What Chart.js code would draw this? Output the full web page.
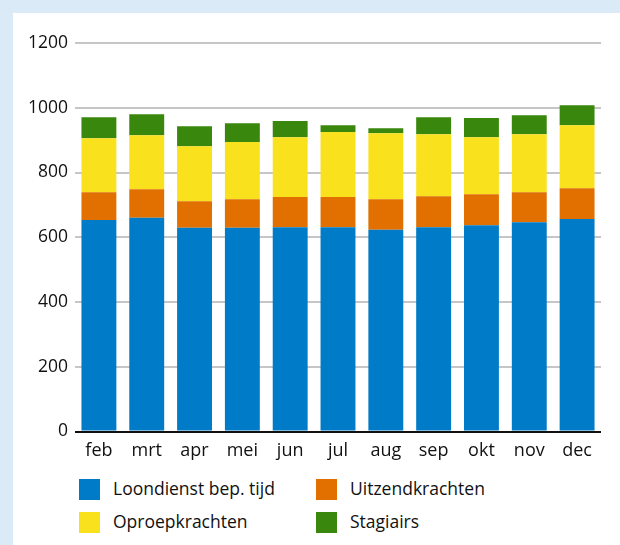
<!DOCTYPE html>
<html>
<head>
<meta charset="utf-8">
<script src="https://cdn.jsdelivr.net/npm/chart.js@4"></script>
<style>
  body { margin: 0; background: #daeaf6; width: 620px; height: 545px; overflow: hidden; font-family: "Open Sans", sans-serif; }
  #panel { position: absolute; left: 13px; top: 13px; width: 607px; height: 532px; background: #fff; }
  #wrap { position: absolute; left: 0; top: 0; width: 607px; height: 460px; }
  #legend { position: absolute; left: 66px; top: 466px; }
  .item { position: absolute; display: flex; align-items: center; white-space: nowrap; font-size: 17.5px; line-height: 21px; color: #111; }
  .item span.txt { position: relative; top: -1px; }
  .box { width: 21px; height: 21px; margin-right: 13px; }
</style>
</head>
<body>
<div id="panel">
  <div id="wrap"><canvas id="chartCanvas"></canvas></div>
  <div id="legend"></div>
</div>
<script>
// maanden
var labels = ['feb', 'mrt', 'apr', 'mei', 'jun', 'jul', 'aug', 'sep', 'okt', 'nov', 'dec'];

var loondienst = [653, 660, 629, 629, 631, 631, 623, 631, 637, 646, 656];
var uitzend    = [86, 88, 82, 88, 93, 93, 94, 96, 96, 93, 95];
var oproep     = [167, 167, 170, 177, 185, 201, 204, 191, 176, 179, 195];
var stagiairs  = [65, 65, 62, 58, 50, 21, 16, 53, 59, 59, 62];

var yTicks = [0, 200, 400, 600, 800, 1000, 1200];

var series = [
  { label: 'Loondienst bep. tijd', data: loondienst, color: '#007bc7' },
  { label: 'Uitzendkrachten', data: uitzend, color: '#e17000' },
  { label: 'Oproepkrachten', data: oproep, color: '#f9e11e' },
  { label: 'Stagiairs', data: stagiairs, color: '#39870c' }
];

var ctx = document.getElementById('chartCanvas').getContext('2d');
var chart = new Chart(ctx, {
  type: 'bar',
  data: {
    labels: labels,
    datasets: series.map(function(s) {
      return {
        label: s.label,
        data: s.data,
        backgroundColor: s.color,
        borderWidth: 0,
        categoryPercentage: 1,
        barPercentage: 0.73
      };
    })
  },
  options: {
    responsive: true,
    maintainAspectRatio: false,
    animation: false,
    layout: { padding: { top: 30, right: 19, left: 0, bottom: 0 } },
    plugins: {
      legend: { display: false },
      tooltip: { enabled: false }
    },
    scales: {
      x: {
        stacked: true,
        grid: { display: false },
        border: { display: false },
        ticks: { color: '#111', font: { family: 'Open Sans', size: 18 }, padding: 1, maxRotation: 0 },
        afterFit: function(s) { s.height = 41.5; }
      },
      y: {
        stacked: true,
        min: 0,
        max: 1200,
        afterBuildTicks: function(s) { s.ticks = yTicks.map(function(v) { return { value: v }; }); },
        grid: {
          drawTicks: false,
          lineWidth: 2,
          color: function(c) { return c.tick && c.tick.value === 0 ? '#111' : '#c6c6c6'; }
        },
        border: { display: false },
        ticks: {
          color: '#111',
          font: { family: 'Open Sans', size: 17.5 },
          padding: 7,
          callback: function(v) { return String(v); }
        },
        afterFit: function(s) { s.width = 62; }
      }
    }
  }
});

// legenda in twee kolommen
var legendEl = document.getElementById('legend');
var pos = [[0, 0], [237, 0], [0, 33], [237, 33]];
series.forEach(function(s, i) {
  var item = document.createElement('div');
  item.className = 'item';
  item.style.left = pos[i][0] + 'px';
  item.style.top = pos[i][1] + 'px';
  var box = document.createElement('span');
  box.className = 'box';
  box.style.background = s.color;
  var txt = document.createElement('span');
  txt.className = 'txt';
  txt.textContent = s.label;
  item.appendChild(box);
  item.appendChild(txt);
  legendEl.appendChild(item);
});
</script>
</body>
</html>
